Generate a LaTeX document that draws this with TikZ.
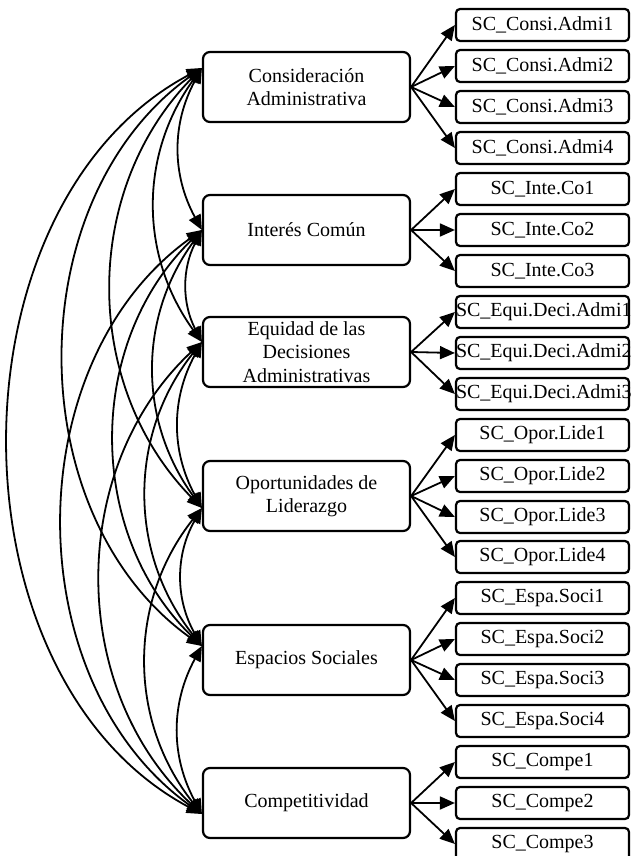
\documentclass[tikz,border=0pt]{standalone}
\usepackage{fontspec}
\setmainfont{Liberation Serif}
\usetikzlibrary{arrows.meta}
\begin{document}
\begin{tikzpicture}[x=1pt,y=1pt,
  latent/.style={draw, line width=2.2pt, rounded corners=7pt, minimum width=207pt, minimum height=70pt, align=center, inner sep=0pt, font=\fontsize{20}{23.3}\selectfont},
  ind/.style={draw, line width=2.2pt, rounded corners=4pt, text width=173pt, align=center, minimum height=32pt, inner sep=0pt, font=\fontsize{20}{22}\selectfont},
  load/.style={line width=1.8pt, -{Triangle[length=15pt,width=13pt]}},
  cov/.style={line width=1.8pt, {Triangle[length=15pt,width=13pt]}-{Triangle[length=15pt,width=13pt]}}
]
\useasboundingbox (0,0) rectangle (630,-856);
% latent variables
\node[latent] (C) at (306.5,-87) {Consideración\\Administrativa};
\node[latent] (I) at (306.5,-230) {Interés Común};
\node[latent] (E) at (306.5,-352) {Equidad de las\\Decisiones\\Administrativas};
\node[latent] (O) at (306.5,-496) {Oportunidades de\\Liderazgo};
\node[latent] (S) at (306.5,-660) {Espacios Sociales};
\node[latent] (K) at (306.5,-803) {Competitividad};
% indicators
\node[ind] (c1) at (542.5,-25) {SC\_Consi.Admi1};
\node[ind] (c2) at (542.5,-66) {SC\_Consi.Admi2};
\node[ind] (c3) at (542.5,-107) {SC\_Consi.Admi3};
\node[ind] (c4) at (542.5,-148) {SC\_Consi.Admi4};
\node[ind] (i1) at (542.5,-189) {SC\_Inte.Co1};
\node[ind] (i2) at (542.5,-230) {SC\_Inte.Co2};
\node[ind] (i3) at (542.5,-271) {SC\_Inte.Co3};
\node[ind] (e1) at (542.5,-312) {SC\_Equi.Deci.Admi1};
\node[ind] (e2) at (542.5,-353) {SC\_Equi.Deci.Admi2};
\node[ind] (e3) at (542.5,-394) {SC\_Equi.Deci.Admi3};
\node[ind] (o1) at (542.5,-435) {SC\_Opor.Lide1};
\node[ind] (o2) at (542.5,-476) {SC\_Opor.Lide2};
\node[ind] (o3) at (542.5,-517) {SC\_Opor.Lide3};
\node[ind] (o4) at (542.5,-557) {SC\_Opor.Lide4};
\node[ind] (s1) at (542.5,-598) {SC\_Espa.Soci1};
\node[ind] (s2) at (542.5,-639) {SC\_Espa.Soci2};
\node[ind] (s3) at (542.5,-680) {SC\_Espa.Soci3};
\node[ind] (s4) at (542.5,-721) {SC\_Espa.Soci4};
\node[ind] (k1) at (542.5,-762) {SC\_Compe1};
\node[ind] (k2) at (542.5,-803) {SC\_Compe2};
\node[ind] (k3) at (542.5,-844) {SC\_Compe3};
% loadings
\foreach \t in {c1,c2,c3,c4} \draw[load] (C.east) -- (\t.west);
\foreach \t in {i1,i2,i3} \draw[load] (I.east) -- (\t.west);
\foreach \t in {e1,e2,e3} \draw[load] (E.east) -- (\t.west);
\foreach \t in {o1,o2,o3,o4} \draw[load] (O.east) -- (\t.west);
\foreach \t in {s1,s2,s3,s4} \draw[load] (S.east) -- (\t.west);
\foreach \t in {k1,k2,k3} \draw[load] (K.east) -- (\t.west);
% covariance end points
\coordinate (eC) at ([yshift=19pt]C.west);
\coordinate (eI) at (I.west);
\coordinate (eE) at ([yshift=10pt]E.west);
\coordinate (eO) at ([yshift=-12pt]O.west);
\coordinate (eS) at ([yshift=14pt]S.west);
\coordinate (eK) at ([yshift=-11pt]K.west);
% covariances
\draw[cov] (eC) to[bend right=28.6] (eI);
\draw[cov] (eC) to[bend right=35.9] (eE);
\draw[cov] (eC) to[bend right=44.5] (eO);
\draw[cov] (eC) to[bend right=54.4] (eS);
\draw[cov] (eC) to[bend right=62] (eK);
\draw[cov] (eI) to[bend right=27.3] (eE);
\draw[cov] (eI) to[bend right=36] (eO);
\draw[cov] (eI) to[bend right=45.8] (eS);
\draw[cov] (eI) to[bend right=54.4] (eK);
\draw[cov] (eE) to[bend right=28.6] (eO);
\draw[cov] (eE) to[bend right=38.5] (eS);
\draw[cov] (eE) to[bend right=47] (eK);
\draw[cov] (eO) to[bend right=29.8] (eS);
\draw[cov] (eO) to[bend right=38.4] (eK);
\draw[cov] (eS) to[bend right=28.6] (eK);
\end{tikzpicture}
\end{document}
